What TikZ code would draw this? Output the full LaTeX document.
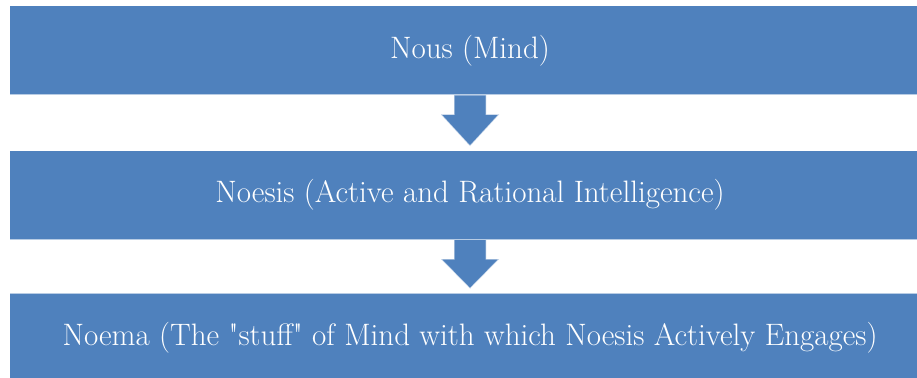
\documentclass[tikz,border=0pt]{standalone}
\usepackage{fontspec}
\usetikzlibrary{calc}
\definecolor{stageblue}{HTML}{4F81BD}
\tikzset{
  stage/.style={fill=stageblue, draw=white, draw opacity=0.6, line width=1pt,
    minimum width=921pt, minimum height=89pt, inner sep=0pt,
    text=white, font=\fontsize{31}{36}\selectfont},
  downarrow/.style={fill=stageblue, draw=white, draw opacity=0.6, line width=1pt}
}
\begin{document}
\begin{tikzpicture}[x=1pt,y=-1pt]
            \useasboundingbox (0,0) rectangle (917,377);
            \fill[white] (0,0) rectangle (917,377);
            \node[stage] (nous) at (470,50.5) {Nous (Mind)};
            \node[stage] (noesis) at (470,195) {Noesis (Active and Rational Intelligence)};
            \node[stage] (noema) at (470,337.5) {Noema (The \textquotedbl stuff\textquotedbl{} of Mind with which Noesis Actively Engages)};
            % block arrows between the stages
            \foreach \a/\b in {nous/noesis, noesis/noema}
              \draw[downarrow] ($(\a.south)+(-16,0)$) -- ($(\a.south)+(-16,19)$) -- ($(\a.south)+(-29,19)$)
                -- ($(\b.north)+(0,-4)$) -- ($(\a.south)+(29,19)$) -- ($(\a.south)+(16,19)$)
                -- ($(\a.south)+(16,0)$);
        \end{tikzpicture}
\end{document}
